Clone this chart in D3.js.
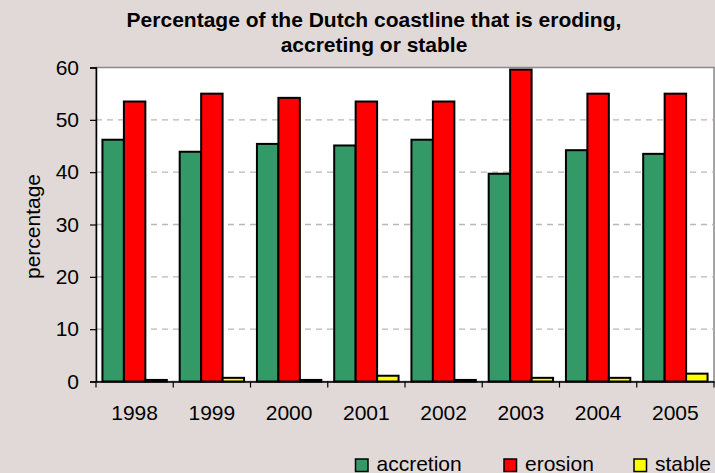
<!DOCTYPE html>
<html>
<head>
<meta charset="utf-8">
<script src="https://cdn.jsdelivr.net/npm/d3@7"></script>
<style>
  html, body { margin: 0; padding: 0; background: #e1d9d8; }
  svg { display: block; font-family: Arial, "Liberation Sans", sans-serif; }
</style>
</head>
<body>
<svg id="chart" width="715" height="473"></svg>
<script>
// Share of the Dutch coastline per state, by year (%)
const years = ["1998", "1999", "2000", "2001", "2002", "2003", "2004", "2005"];
const accretion = [46.2, 43.9, 45.4, 45.1, 46.2, 39.7, 44.2, 43.5];
const erosion   = [53.5, 55.0, 54.2, 53.5, 53.5, 59.6, 55.0, 55.0];
const stable    = [0.3, 0.7, 0.3, 1.1, 0.3, 0.7, 0.7, 1.5];

const seriesNames = ["accretion", "erosion", "stable"];
const seriesColors = ["#339966", "#ff0000", "#ffff00"];
const yTicks = [0, 10, 20, 30, 40, 50, 60];
const titleLines = ["Percentage of the Dutch coastline that is eroding,", "accreting or stable"];

const values = { accretion, erosion, stable };
const rows = years.map((y, i) => ({ year: y, vals: seriesNames.map(s => ({ key: s, v: values[s][i] })) }));

const svg = d3.select("#chart");
const plot = { left: 96, right: 714, top: 67.5, bottom: 381.5 };

const x = d3.scaleBand().domain(years).range([plot.left, plot.right]).paddingInner(0).paddingOuter(0);
const xs = d3.scaleBand().domain(seriesNames).range([0, x.bandwidth()]).paddingInner(0).paddingOuter(0.3);
const y = d3.scaleLinear().domain([0, 60]).range([plot.bottom, plot.top]);
const color = d3.scaleOrdinal().domain(seriesNames).range(seriesColors);

// Title
svg.append("g").selectAll("text").data(titleLines).join("text")
  .attr("x", 374).attr("y", (d, i) => 27.3 + i * 25)
  .attr("text-anchor", "middle")
  .style("font-size", "21px").style("font-weight", "bold").attr("fill", "#000")
  .text(d => d);

// Plot area
svg.append("rect")
  .attr("x", plot.left).attr("y", plot.top)
  .attr("width", plot.right - plot.left).attr("height", plot.bottom - plot.top)
  .attr("fill", "#fff").attr("stroke", "#8a8a8a").attr("stroke-width", 1.5);

// Gridlines
svg.append("g").selectAll("line").data(yTicks.filter(t => t > 0 && t < 60)).join("line")
  .attr("x1", plot.left).attr("x2", plot.right)
  .attr("y1", d => y(d)).attr("y2", d => y(d))
  .attr("stroke", "#b8b8b8").attr("stroke-width", 1.3).attr("stroke-dasharray", "6,5");

// Bars
svg.append("g").selectAll("g").data(rows).join("g")
  .attr("transform", d => `translate(${x(d.year)},0)`)
  .selectAll("rect").data(d => d.vals).join("rect")
  .attr("x", d => xs(d.key)).attr("width", xs.bandwidth())
  .attr("y", d => y(d.v)).attr("height", d => y(0) - y(d.v))
  .attr("fill", d => color(d.key))
  .attr("stroke", "#000").attr("stroke-width", 2);

// Y axis
const yAxis = svg.append("g").attr("transform", `translate(${plot.left},0)`)
  .call(d3.axisLeft(y).tickValues(yTicks).tickSize(6).tickPadding(11).tickFormat(d3.format("d")));
yAxis.select(".domain").attr("stroke", "#000").attr("stroke-width", 1.5);
yAxis.selectAll(".tick line").attr("stroke", "#000").attr("stroke-width", 1.2);
yAxis.selectAll("text").style("font-size", "21px").attr("fill", "#000").attr("font-family", null);

// X axis: labels centred in each band, ticks on band boundaries
const xAxis = svg.append("g").attr("transform", `translate(0,${plot.bottom})`)
  .call(d3.axisBottom(x).tickSize(0).tickSizeOuter(0));
xAxis.select(".domain").attr("stroke", "#000").attr("stroke-width", 1.5);
xAxis.selectAll("text").attr("dy", null).attr("y", 38.5)
  .style("font-size", "21px").attr("fill", "#000").attr("font-family", null);
xAxis.append("g").selectAll("line").data([plot.left].concat(years.map(yr => x(yr) + x.bandwidth()))).join("line")
  .attr("x1", d => d).attr("x2", d => d).attr("y1", 0).attr("y2", 6)
  .attr("stroke", "#000").attr("stroke-width", 1.2);

// Y axis title
svg.append("text")
  .attr("transform", "translate(39.5,226.5) rotate(-90)")
  .attr("text-anchor", "middle")
  .style("font-size", "21px").attr("fill", "#000")
  .text("percentage");

// Legend
const legendX = [355.5, 504, 634];
const legend = svg.append("g").selectAll("g").data(seriesNames).join("g")
  .attr("transform", (d, i) => `translate(${legendX[i]},0)`);
legend.append("rect")
  .attr("x", 0).attr("y", 459).attr("width", 12.5).attr("height", 12.5)
  .attr("fill", d => color(d)).attr("stroke", "#000").attr("stroke-width", 1.5);
legend.append("text")
  .attr("x", 21).attr("y", 470.5)
  .style("font-size", "21px").attr("fill", "#000")
  .text(d => d);
</script>
</body>
</html>
